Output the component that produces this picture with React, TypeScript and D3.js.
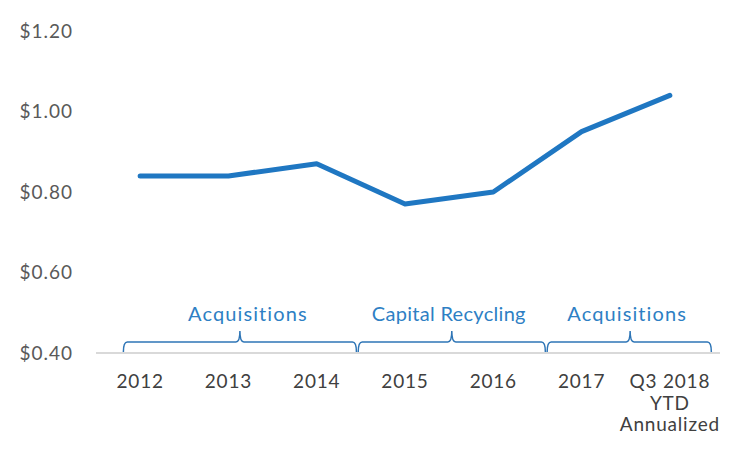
import React from 'react';
import * as d3 from 'd3';

// category labels (multi-line ones split on \n)
const categories = ['2012', '2013', '2014', '2015', '2016', '2017', 'Q3 2018\nYTD\nAnnualized'];
const dividends = [0.84, 0.84, 0.87, 0.77, 0.80, 0.95, 1.04];
const yTicks = [0.4, 0.6, 0.8, 1.0, 1.2];

// bracket groups, spans given in category-index units
const groupLabels = ['Acquisitions', 'Capital Recycling', 'Acquisitions'];
const groupStarts = [-0.19, 2.47, 4.61];
const groupEnds = [2.45, 4.59, 6.47];
const groupPeaks = [1.13, 3.53, 5.55];

const width = 733;
const height = 451;
const margin = { top: 31, right: 19, bottom: 98, left: 96 };

const FONT = 'Lato, "Open Sans", sans-serif';

export default function App() {
    const x = d3.scaleBand<string>()
        .domain(categories)
        .range([margin.left, 714])
        .padding(0);

    const y = d3.scaleLinear()
        .domain([0.4, 1.2])
        .range([height - margin.bottom, margin.top]);

    const cx = (c: string) => x(c)! + x.bandwidth() / 2;

    const idx = d3.scaleLinear()
        .domain([0, categories.length - 1])
        .range([cx(categories[0]), cx(categories[categories.length - 1])]);

    const line = d3.line<number>()
        .x((_, i) => cx(categories[i]))
        .y(d => y(d));

    const baseY = y(0.4);
    const bTop = baseY - 11;
    const bBottom = baseY - 1;
    const bPeak = baseY - 22;
    const r = 4;

    const bracket = (x0: number, x1: number, xp: number) => {
        const p = d3.path();
        p.moveTo(x0, bBottom);
        p.quadraticCurveTo(x0, bTop, x0 + r, bTop);
        p.lineTo(xp - r, bTop);
        p.quadraticCurveTo(xp, bTop, xp, bPeak);
        p.quadraticCurveTo(xp, bTop, xp + r, bTop);
        p.lineTo(x1 - r, bTop);
        p.quadraticCurveTo(x1, bTop, x1, bBottom);
        return p.toString();
    };

    return (
        <svg width={width} height={height} style={{ display: 'block', position: 'absolute', left: 0, top: 0 }}>
            <rect width={width} height={height} fill="#fff" />

            {yTicks.map(t => (
                <text key={t} x={73} y={y(t)} dy="0.35em" textAnchor="end"
                    fontFamily={FONT} fontSize={19} letterSpacing={1} fill="#595959">
                    {d3.format('$.2f')(t)}
                </text>
            ))}

            <line x1={margin.left} x2={720} y1={baseY} y2={baseY} stroke="#d9d9d9" strokeWidth={2} />

            {categories.map(c => (
                <text key={c} textAnchor="middle" fontFamily={FONT} fontSize={19} letterSpacing={0.8} fill="#404040">
                    {c.split('\n').map((s, i) => (
                        <tspan key={i} x={cx(c)} y={baseY + 35 + i * 21.5}>{s}</tspan>
                    ))}
                </text>
            ))}

            {groupLabels.map((g, i) => (
                <g key={i}>
                    <path d={bracket(idx(groupStarts[i]), idx(groupEnds[i]), idx(groupPeaks[i]))}
                        fill="none" stroke="#2e75b6" strokeWidth={1.5} />
                    <text x={idx(groupPeaks[i]) + (i === 1 ? -3 : i === 0 ? 8 : -3)} y={baseY - 32}
                        textAnchor="middle" fontFamily={FONT} fontSize={20}
                        letterSpacing={i === 1 ? 0.3 : 1.1} fill="#2e7fc4">
                        {g}
                    </text>
                </g>
            ))}

            <path d={line(dividends) || ''} fill="none" stroke="#1f77c2" strokeWidth={5}
                strokeLinecap="round" strokeLinejoin="round" />
        </svg>
    );
}
